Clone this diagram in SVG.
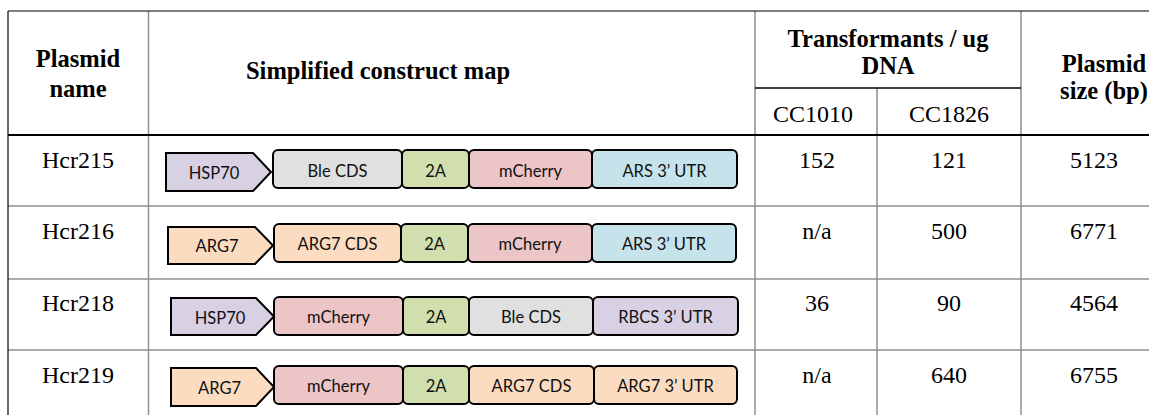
<svg xmlns="http://www.w3.org/2000/svg" width="1149" height="415" viewBox="0 0 1149 415">
<style>
.grid{stroke:#8f8f8f;stroke-width:1.5;fill:none}
.blk{stroke:#000;fill:none}
.h{font-family:"Liberation Serif","Times New Roman",serif;font-weight:bold;font-size:24.5px;text-anchor:middle;fill:#000}
.t{font-family:"Liberation Serif","Times New Roman",serif;font-size:24px;text-anchor:middle;fill:#000}
.seg{stroke:#000;stroke-width:2}
.lbl{font-family:Lato,"Open Sans",sans-serif;font-size:16.5px;text-anchor:middle;fill:#111}
.pur{fill:#d8d0e3}.gry{fill:#e0e0e0}.grn{fill:#d0dfad}.pnk{fill:#ecc6c6}.blu{fill:#c6e3ec}.pch{fill:#fcdcc1}
</style>
<rect width="1149" height="415" fill="#fff"/>
<g id="table-grid">
<line class="grid" x1="148.5" y1="11" x2="148.5" y2="415"/>
<line class="grid" x1="755" y1="11" x2="755" y2="415"/>
<line class="grid" x1="877" y1="88" x2="877" y2="415"/>
<line class="grid" x1="1021" y1="11" x2="1021" y2="415"/>
<line class="grid" x1="8" y1="206" x2="1149" y2="206"/>
<line class="grid" x1="8" y1="279" x2="1149" y2="279"/>
<line class="grid" x1="8" y1="350" x2="1149" y2="350"/>
<line class="blk" stroke-width="1.2" x1="8" y1="11" x2="1149" y2="11"/>
<line class="blk" stroke-width="1.2" x1="8" y1="11" x2="8" y2="415"/>
<line class="blk" stroke-width="1.4" x1="755" y1="88" x2="1021" y2="88"/>
<line class="blk" stroke-width="2.2" x1="8" y1="135" x2="1149" y2="135"/>
</g>
<g id="header">
<text class="h" x="78" y="67">Plasmid</text>
<text class="h" x="78" y="97">name</text>
<text class="h" x="378" y="79">Simplified construct map</text>
<text class="h" x="888" y="47">Transformants / ug</text>
<text class="h" x="888" y="74">DNA</text>
<text class="h" x="1104" y="72">Plasmid</text>
<text class="h" x="1104" y="99">size (bp)</text>
<text class="t" x="813" y="122">CC1010</text>
<text class="t" x="949" y="122">CC1826</text>
</g>
<g id="row-hcr215">
<text class="t" x="78" y="168">Hcr215</text>
<text class="t" x="817" y="168">152</text>
<text class="t" x="949" y="168">121</text>
<text class="t" x="1094" y="168">5123</text>
<path class="seg pur" d="M166,153 L253,153 L271,172 L253,191 L166,191 Z"/>
<rect class="seg gry" x="273" y="150" width="129" height="38" rx="5"/>
<rect class="seg grn" x="402" y="150" width="67" height="38" rx="5"/>
<rect class="seg pnk" x="469" y="150" width="123" height="38" rx="5"/>
<rect class="seg blu" x="592" y="150" width="145" height="38" rx="5"/>
<text class="lbl" x="214" y="179">HSP70</text>
<text class="lbl" x="337.5" y="177">Ble CDS</text>
<text class="lbl" x="435.5" y="177">2A</text>
<text class="lbl" x="530.5" y="177">mCherry</text>
<text class="lbl" x="664.5" y="177">ARS 3’ UTR</text>
</g>
<g id="row-hcr216">
<text class="t" x="78" y="239">Hcr216</text>
<text class="t" x="817" y="239">n/a</text>
<text class="t" x="949" y="239">500</text>
<text class="t" x="1094" y="239">6771</text>
<path class="seg pch" d="M168,227 L255,227 L273,245.5 L255,264 L168,264 Z"/>
<rect class="seg pch" x="274" y="224" width="127" height="38" rx="5"/>
<rect class="seg grn" x="401" y="224" width="67" height="38" rx="5"/>
<rect class="seg pnk" x="468" y="224" width="124" height="38" rx="5"/>
<rect class="seg blu" x="592" y="224" width="144" height="38" rx="5"/>
<text class="lbl" x="217" y="252">ARG7</text>
<text class="lbl" x="337.5" y="250">ARG7 CDS</text>
<text class="lbl" x="434.5" y="250">2A</text>
<text class="lbl" x="530" y="250">mCherry</text>
<text class="lbl" x="664" y="250">ARS 3’ UTR</text>
</g>
<g id="row-hcr218">
<text class="t" x="78" y="311">Hcr218</text>
<text class="t" x="817" y="311">36</text>
<text class="t" x="949" y="311">90</text>
<text class="t" x="1094" y="311">4564</text>
<path class="seg pur" d="M171,298 L256,298 L274,316.5 L256,335 L171,335 Z"/>
<rect class="seg pnk" x="274" y="297" width="129" height="38" rx="5"/>
<rect class="seg grn" x="403" y="297" width="66" height="38" rx="5"/>
<rect class="seg gry" x="469" y="297" width="124" height="38" rx="5"/>
<rect class="seg pur" x="593" y="297" width="145" height="38" rx="5"/>
<text class="lbl" x="220" y="324">HSP70</text>
<text class="lbl" x="338.5" y="323">mCherry</text>
<text class="lbl" x="436" y="323">2A</text>
<text class="lbl" x="531" y="323">Ble CDS</text>
<text class="lbl" x="665.5" y="323">RBCS 3’ UTR</text>
</g>
<g id="row-hcr219">
<text class="t" x="78" y="383">Hcr219</text>
<text class="t" x="817" y="383">n/a</text>
<text class="t" x="949" y="383">640</text>
<text class="t" x="1094" y="383">6755</text>
<path class="seg pch" d="M171,368 L256,368 L274,387 L256,406 L171,406 Z"/>
<rect class="seg pnk" x="274" y="366" width="129" height="38" rx="5"/>
<rect class="seg grn" x="403" y="366" width="66" height="38" rx="5"/>
<rect class="seg pch" x="469" y="366" width="125" height="38" rx="5"/>
<rect class="seg pch" x="594" y="366" width="143" height="38" rx="5"/>
<text class="lbl" x="219.5" y="394">ARG7</text>
<text class="lbl" x="338.5" y="392">mCherry</text>
<text class="lbl" x="436" y="392">2A</text>
<text class="lbl" x="531.5" y="392">ARG7 CDS</text>
<text class="lbl" x="665.5" y="392">ARG7 3’ UTR</text>
</g>
</svg>
